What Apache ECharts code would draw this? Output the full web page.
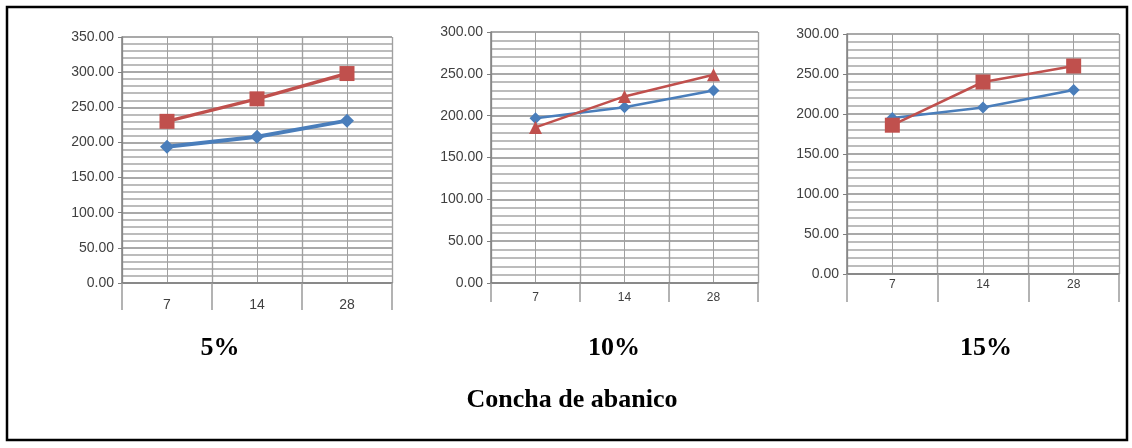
<!DOCTYPE html>
<html>
<head>
<meta charset="utf-8">
<script src="https://cdn.jsdelivr.net/npm/echarts@6/dist/echarts.min.js"></script>
<style>
  html, body { margin: 0; padding: 0; background: #fff; }
  #chart { width: 1132px; height: 448px; }
</style>
</head>
<body>
<div id="chart"></div>
<script>
// datos
const dias = ['7', '14', '28'];
const paneles = ['5%', '10%', '15%'];
const tituloGeneral = 'Concha de abanico';

const azul5 = [194, 208, 231];
const rojo5 = [230, 262, 298];
const azul10 = [197, 210, 230];
const rojo10 = [186, 223, 249];
const azul15 = [195, 208, 230];
const rojo15 = [186, 240, 260];

const yMax = [350, 300, 300];
const simboloRojo = ['rect', 'triangle', 'rect'];

// geometria de cada panel
const grids = [
  { left: 122, top: 37, width: 270, height: 246 },
  { left: 491, top: 32, width: 267, height: 251 },
  { left: 847, top: 34, width: 272, height: 240 }
];
const tickLen = [27, 19, 28];
const labelMargin = [15, 9, 5];
const xFont = [14, 12, 12];
const yFont = [14, 14, 14];
const tituloX = [220, 614, 986];

const azules = [azul5, azul10, azul15];
const rojos = [rojo5, rojo10, rojo15];

const xAxes = [];
const yAxes = [];
const series = [];

grids.forEach((g, i) => {
  // eje de categorias (etiquetas, marcas largas, lineas en los limites)
  xAxes.push({
    type: 'category',
    gridIndex: i,
    data: dias,
    axisLine: { lineStyle: { color: '#7f7f7f', width: 1.5 } },
    axisTick: { show: true, length: tickLen[i], interval: 0, lineStyle: { color: '#9a9a9a', width: 1.5 } },
    axisLabel: {
      interval: 0,
      margin: labelMargin[i],
      color: '#404040',
      fontFamily: 'Liberation Sans',
      fontSize: xFont[i]
    },
    splitLine: { show: true, lineStyle: { color: '#8a8a8a', width: 1.3 } }
  });
  // eje auxiliar solo para las lineas verticales en el centro de cada categoria
  xAxes.push({
    type: 'value',
    gridIndex: i,
    min: 0,
    max: 3,
    interval: 0.5,
    axisLine: { show: false },
    axisTick: { show: false },
    axisLabel: { show: false },
    splitLine: { show: true, lineStyle: { color: '#a0a0a0', width: 1 } }
  });
  yAxes.push({
    type: 'value',
    gridIndex: i,
    min: 0,
    max: yMax[i],
    interval: 50,
    axisLine: { show: true, lineStyle: { color: '#7f7f7f', width: 1.5 } },
    axisTick: { show: true, length: 4, lineStyle: { color: '#7f7f7f' } },
    axisLabel: {
      margin: 8,
      color: '#404040',
      fontFamily: 'Liberation Sans',
      fontSize: yFont[i],
      formatter: v => v.toFixed(2)
    },
    splitLine: { show: true, lineStyle: { color: '#8c8c8c', width: 1.5 } },
    minorTick: { show: false, splitNumber: 5 },
    minorSplitLine: { show: true, lineStyle: { color: '#a6a6a6', width: 1.5 } }
  });

  series.push({
    type: 'line',
    xAxisIndex: i * 2,
    yAxisIndex: i,
    data: azules[i],
    symbol: 'diamond',
    symbolSize: i === 0 ? [14, 14] : [12, 12],
    lineStyle: { color: '#4a7ebb', width: i === 0 ? 4 : 2.5 },
    itemStyle: { color: '#4a7ebb' },
    z: 3
  });
  series.push({
    type: 'line',
    xAxisIndex: i * 2,
    yAxisIndex: i,
    data: rojos[i],
    symbol: simboloRojo[i],
    symbolSize: i === 0 ? 15 : (i === 1 ? 13 : 15),
    lineStyle: { color: '#c0504d', width: i === 0 ? 3.5 : 2.5 },
    itemStyle: { color: '#c0504d' },
    z: 4
  });
});

const graphic = [
  {
    type: 'rect',
    shape: { x: 7, y: 7, width: 1120, height: 433 },
    style: { fill: 'none', stroke: '#000', lineWidth: 2.5 }
  }
];
paneles.forEach((t, i) => {
  graphic.push({
    type: 'text',
    x: tituloX[i],
    y: 348,
    style: {
      text: t,
      fill: '#000',
      font: 'bold 26px "Liberation Serif", serif',
      textAlign: 'center',
      textVerticalAlign: 'middle'
    }
  });
});
graphic.push({
  type: 'text',
  x: 572,
  y: 400,
  style: {
    text: tituloGeneral,
    fill: '#000',
    font: 'bold 26px "Liberation Serif", serif',
    textAlign: 'center',
    textVerticalAlign: 'middle'
  }
});

const myChart = echarts.init(document.getElementById('chart'));
myChart.setOption({
  animation: false,
  backgroundColor: '#fff',
  grid: grids,
  xAxis: xAxes,
  yAxis: yAxes,
  series: series,
  graphic: graphic
});
</script>
</body>
</html>
